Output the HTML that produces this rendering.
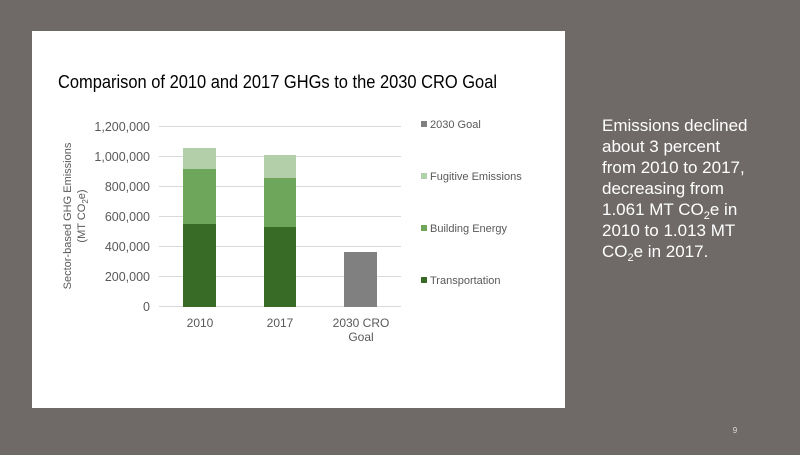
<!DOCTYPE html>
<html><head><style>
body{margin:0;width:800px;height:450px;background:#6f6a68;overflow:hidden;font-family:"Liberation Sans",sans-serif}
</style></head><body>
<svg width="800" height="450" xmlns="http://www.w3.org/2000/svg" font-family="Liberation Sans, sans-serif">
<rect x="0" y="0" width="800" height="450" fill="#6f6a68"/>
<rect x="32" y="31" width="533" height="377" fill="#fff"/>
<text x="58" y="88" font-size="18" fill="#000" textLength="439" lengthAdjust="spacingAndGlyphs">Comparison of 2010 and 2017 GHGs to the 2030 CRO Goal</text>
<g stroke="#d9d9d9" stroke-width="1">
<line x1="159" x2="401" y1="126.5" y2="126.5"/>
<line x1="159" x2="401" y1="156.5" y2="156.5"/>
<line x1="159" x2="401" y1="186.5" y2="186.5"/>
<line x1="159" x2="401" y1="216.5" y2="216.5"/>
<line x1="159" x2="401" y1="246.5" y2="246.5"/>
<line x1="159" x2="401" y1="276.5" y2="276.5"/>
<line x1="159" x2="401" y1="306.5" y2="306.5"/>
</g>
<g font-size="12.5" fill="#595959" text-anchor="end">
<text x="150" y="131">1,200,000</text>
<text x="150" y="161">1,000,000</text>
<text x="150" y="191">800,000</text>
<text x="150" y="221">600,000</text>
<text x="150" y="251">400,000</text>
<text x="150" y="281">200,000</text>
<text x="150" y="311">0</text>
</g>
<g font-size="11" fill="#595959" text-anchor="middle">
<text transform="translate(71,216) rotate(-90)">Sector-based GHG Emissions</text>
<text transform="translate(85,216) rotate(-90)">(MT CO<tspan font-size="8" dy="3">2</tspan><tspan dy="-3">e)</tspan></text>
</g>
<rect x="183" y="224" width="33" height="83" fill="#386b25"/>
<rect x="183" y="169" width="33" height="55" fill="#6ea75c"/>
<rect x="183" y="148" width="33" height="21" fill="#b3cfaa"/>
<rect x="264" y="227" width="32" height="80" fill="#386b25"/>
<rect x="264" y="178" width="32" height="49" fill="#6ea75c"/>
<rect x="264" y="155" width="32" height="23" fill="#b3cfaa"/>
<rect x="344" y="252" width="33" height="55" fill="#808080"/>
<g font-size="12" fill="#595959" text-anchor="middle">
<text x="200" y="327">2010</text>
<text x="280" y="327">2017</text>
<text x="361" y="327">2030 CRO</text>
<text x="361" y="341">Goal</text>
</g>
<g font-size="11" fill="#595959">
<rect x="421" y="121" width="6" height="6" fill="#808080"/><text x="430" y="128">2030 Goal</text>
<rect x="421" y="173" width="6" height="6" fill="#b3cfaa"/><text x="430" y="180">Fugitive Emissions</text>
<rect x="421" y="225" width="6" height="6" fill="#6ea75c"/><text x="430" y="232">Building Energy</text>
<rect x="421" y="277" width="6" height="6" fill="#386b25"/><text x="430" y="284">Transportation</text>
</g>
<g font-size="17" fill="#fff">
<text x="602" y="131">Emissions declined</text>
<text x="602" y="152">about 3 percent</text>
<text x="602" y="173">from 2010 to 2017,</text>
<text x="602" y="194">decreasing from</text>
<text x="602" y="215">1.061 MT CO<tspan font-size="11" dy="4">2</tspan><tspan dy="-4">e in</tspan></text>
<text x="602" y="236">2010 to 1.013 MT</text>
<text x="602" y="257">CO<tspan font-size="11" dy="4">2</tspan><tspan dy="-4">e in 2017.</tspan></text>
</g>
<text x="735" y="433" font-size="8" fill="#ddd" text-anchor="middle">9</text>
</svg>
</body></html>
